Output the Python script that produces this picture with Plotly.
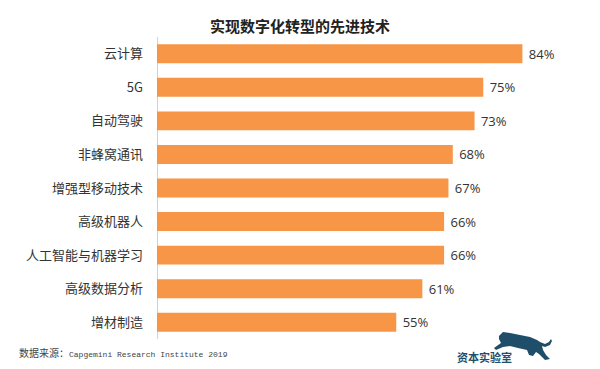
import plotly.graph_objects as go

categories = ["云计算", "5G", "自动驾驶", "非蜂窝通讯", "增强型移动技术",
              "高级机器人", "人工智能与机器学习", "高级数据分析", "增材制造"]
values = [84, 75, 73, 68, 67, 66, 66, 61, 55]
value_labels = [" %d%%" % v for v in values]

title_text = "实现数字化转型的先进技术"
source_cn = "数据来源："
source_en = "Capgemini Research Institute 2019"
logo_text = "资本实验室"

BAR = "#F79646"
W, H = 600, 369
L, R, T, B = 157, 8, 36.5, 30.1

fig = go.Figure()
fig.add_trace(go.Bar(
    x=values, y=categories, orientation="h",
    marker=dict(color=BAR, line=dict(width=0)),
    text=value_labels, textposition="outside", cliponaxis=False,
    textfont=dict(family="Open Sans, Noto Sans CJK SC", size=13, color="#333333"),
    hoverinfo="skip",
))

fig.update_layout(
    width=W, height=H,
    margin=dict(l=L, r=R, t=T, b=B, pad=0, autoexpand=False),
    paper_bgcolor="white", plot_bgcolor="white",
    showlegend=False,
    bargap=0.435,
    xaxis=dict(range=[0, 100], visible=False, fixedrange=True, automargin=False),
    yaxis=dict(autorange="reversed", showgrid=False, zeroline=False, automargin=False,
               showline=False, ticks="", ticklabelstandoff=13, fixedrange=True,
               tickfont=dict(family="Noto Sans CJK SC", size=13, color="#333333")),
)

# vertical axis line at x = 0
fig.add_shape(type="line", xref="x", yref="paper", x0=0, x1=0, y0=0, y1=1,
              line=dict(color="#A6A6A6", width=1))

def px(x, y):
    return (x - L) / (W - L - R), (H - B - y) / (H - T - B)

# title
tx, ty = px(300, 25)
fig.add_annotation(text="<b>%s</b>" % title_text, xref="paper", yref="paper",
                   x=tx, y=ty, xanchor="center", yanchor="middle", showarrow=False,
                   font=dict(family="Noto Sans CJK SC", size=15, color="#222222"))

# source
sx, sy = px(17, 352.5)
fig.add_annotation(
    text=('<span style="font-family:Noto Sans CJK SC;font-size:10px">%s</span>'
          '<span style="font-family:Liberation Mono;font-size:8px">%s</span>') % (source_cn, source_en),
    xref="paper", yref="paper", x=sx, y=sy,
    xanchor="left", yanchor="middle", showarrow=False,
    font=dict(family="Noto Sans CJK SC", size=10, color="#444444"))

# logo text
lx, ly = px(455, 357)
fig.add_annotation(text="<b>%s</b>" % logo_text, xref="paper", yref="paper",
                   x=lx, y=ly, xanchor="left", yanchor="middle", showarrow=False,
                   font=dict(family="Noto Sans CJK SC", size=11, color="#1F4E6B"))

# leopard silhouette (logo decoration)
pts = [(499, 336), (503, 332), (510, 333), (520, 335), (530, 337), (537, 340),
       (540, 342), (545, 344), (549, 342), (551, 339), (552, 341), (550, 345),
       (545, 347), (542, 346), (543, 350), (546, 355), (550, 359), (545, 360),
       (539, 354), (536, 352), (533, 356), (529, 355), (527, 350), (518, 348),
       (510, 346), (503, 347), (496, 350), (494, 348), (501, 343), (499, 339)]
path = "M " + " L ".join("%.4f,%.4f" % px(x, y) for x, y in pts) + " Z"
fig.add_shape(type="path", xref="paper", yref="paper", path=path,
              fillcolor="#1F4E6B", line=dict(width=0))

fig.write_html("out.html", config={"displayModeBar": False, "staticPlot": True},
               post_script="document.body.style.margin='0';document.body.style.overflow='hidden';")
